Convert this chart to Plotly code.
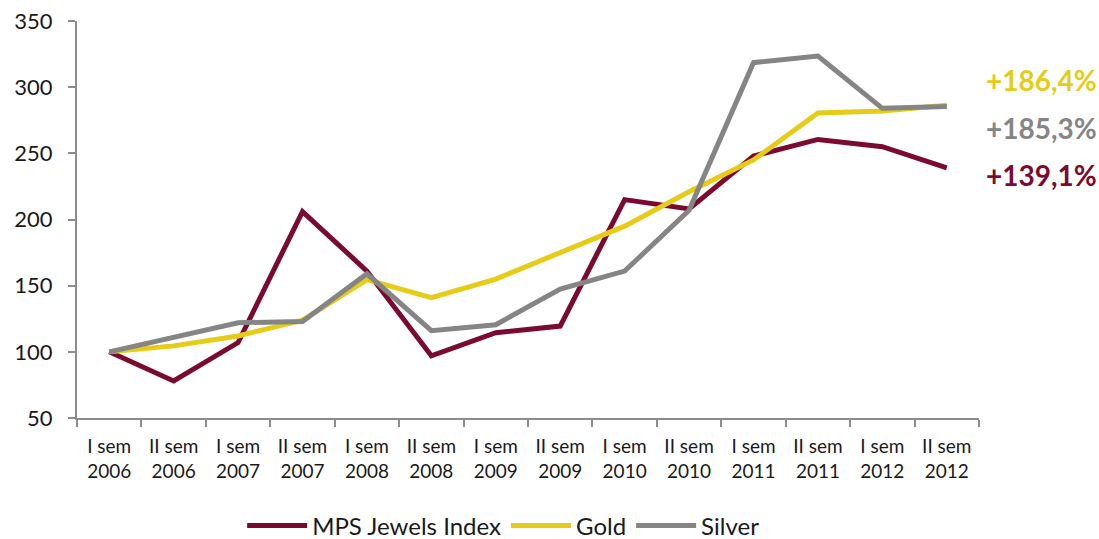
import plotly.graph_objects as go

categories = ["I sem<br>2006", "II sem<br>2006", "I sem<br>2007", "II sem<br>2007",
              "I sem<br>2008", "II sem<br>2008", "I sem<br>2009", "II sem<br>2009",
              "I sem<br>2010", "II sem<br>2010", "I sem<br>2011", "II sem<br>2011",
              "I sem<br>2012", "II sem<br>2012"]
mps = [100, 78, 107, 206, 161, 97, 114.5, 119.5, 215, 208, 248, 260.5, 255, 239.1]
gold = [100, 104.5, 112, 124, 154.5, 141, 155, 174.5, 195, 221, 245, 280.5, 282, 286.4]
silver = [100, 111, 122, 123, 159, 116, 120.5, 147.5, 161, 207, 318.5, 323.5, 284, 285.3]
labels = ["+186,4%", "+185,3%", "+139,1%"]
label_y = [80, 128, 175]  # pixel rows of the right-hand labels

C_MPS = "#7B0A2F"
C_GOLD = "#E6CC17"
C_SILVER = "#858585"
AXIS = "#8C8C8C"
FONT = "Lato, Open Sans, sans-serif"

fig = go.Figure()
for name, vals, col in [("MPS Jewels Index", mps, C_MPS), ("Gold", gold, C_GOLD), ("Silver", silver, C_SILVER)]:
    fig.add_trace(go.Scatter(x=categories, y=vals, mode="lines", name=name,
                             line=dict(color=col, width=5)))

for txt, py, col in zip(labels, label_y, [C_GOLD, C_SILVER, C_MPS]):
    fig.add_annotation(text="<b>" + txt + "</b>", xref="paper", yref="paper",
                       x=(1041 - 77) / 902, y=(418 - py) / 397, xanchor="center", yanchor="middle",
                       showarrow=False, font=dict(size=28, color=col, family=FONT))

fig.update_layout(
    width=1099, height=539,
    margin=dict(l=77, r=120, t=21, b=121, autoexpand=False),
    paper_bgcolor="white", plot_bgcolor="white",
    font=dict(family=FONT, color="#1a1a1a"),
    showlegend=True,
    legend=dict(orientation="h", x=0.473, xanchor="center", y=-0.215, yanchor="top",
                font=dict(size=24, color="#1a1a1a"), tracegroupgap=0, itemwidth=60),
    xaxis=dict(type="category", showgrid=False, showline=True, linecolor=AXIS, linewidth=2,
               ticks="outside", tickson="boundaries", tickcolor=AXIS, ticklen=7, tickwidth=1.5,
               tickfont=dict(size=19, color="#1a1a1a"), range=[-0.5, 13.5], automargin=False,
               ticklabelstandoff=10),
    yaxis=dict(range=[50, 350], dtick=50, showgrid=False, showline=True, linecolor=AXIS, linewidth=2,
               ticks="outside", tickcolor=AXIS, ticklen=7, tickwidth=1.5, zeroline=False,
               tickfont=dict(size=22, color="#1a1a1a"), automargin=False, ticklabelstandoff=11),
)

fig.write_html("out.html")
